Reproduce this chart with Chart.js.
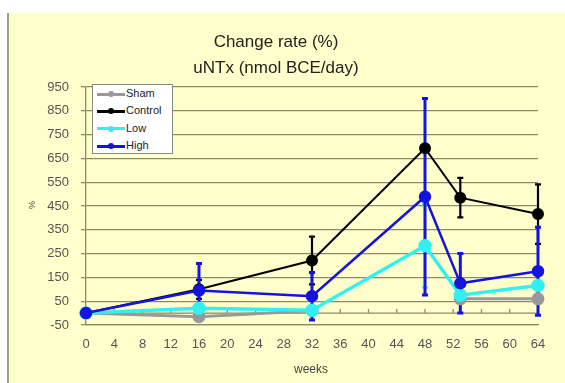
<!DOCTYPE html>
<html lang="en">
<head>
<meta charset="UTF-8" />
<title>Change rate (%) uNTx</title>
<script src="https://cdn.jsdelivr.net/npm/chart.js"></script>
<style>
  html, body { margin:0; padding:0; background:#fff; font-family: Arial, "Liberation Sans", sans-serif; }
  #wrap { position:relative; width:565px; height:383px; overflow:hidden; }
  #bg { position:absolute; left:7px; top:13px; right:0; bottom:0; background:#ffffcc; border-left:2px solid #a09f80; }
  canvas { position:absolute; left:0; top:0; }
  .title { position:absolute; left:0; width:552px; text-align:center; font-size:17px; color:#222; }
  .lbl { position:absolute; color:#444; font-size:12px; }
  #legend { position:absolute; left:92px; top:84px; width:79px; height:68px; background:#fff; border:1px solid #888; font-size:11px; color:#222; }
  #legend div { height:17.4px; line-height:17px; white-space:nowrap; }
  #legend .ln { display:inline-block; position:relative; width:28px; height:3px; margin:0 1px 0 4px; vertical-align:middle; }
  #legend .ln i { position:absolute; left:11px; top:-1.5px; width:6px; height:6px; border-radius:3px; }
</style>
</head>
<body>
<div id="wrap">
  <div id="bg"></div>
  <canvas id="chart" width="565" height="383"></canvas>
  <div class="title" style="top:32px">Change rate (%)</div>
  <div class="title" style="top:58px">uNTx (nmol BCE/day)</div>
  <div class="lbl" style="left:294px; top:362px">weeks</div>
  <div class="lbl" style="left:28px; top:200px; font-size:9px; transform:rotate(-90deg)">%</div>
  <div id="legend"></div>
</div>

<script>
const weeks = [0, 16, 32, 48, 53, 64];
const yTicksMin = -50, yTicksMax = 950, yStep = 100;

const names = ['Sham', 'Control', 'Low', 'High'];
const colors = ['#999999', '#000000', '#33f0f0', '#1414dc'];

const sham    = [0, -15, 10, null, 60, 60];
const control = [0, 100, 221, 693, 485, 416];
const low     = [0, 20, 12, 283, 75, 116];
const high    = [0, 95, 71, 489, 125, 176];

const shamErr    = [0, 0, 0, 0, 0, 0];
const controlErr = [0, 40, 100, 0, 83, 125];
const lowErr     = [0, 0, 0, 175, 0, 0];
const highErr    = [0, 113, 100, 413, 125, 185];

const series = [sham, control, low, high];
const errs = [shamErr, controlErr, lowErr, highErr];
const widths = [3, 2, 3.5, 2.5];
const order = [3, 2, 1, 0];

const gridColor = '#8c8a6a';

// error bars under the lines
const errorBars = {
  id:'errorBars',
  beforeDatasetsDraw(chart){
    const ctx = chart.ctx, ys = chart.scales.y, xs = chart.scales.x;
    chart.data.datasets.forEach((ds, i) => {
      ctx.save();
      ctx.strokeStyle = ds.borderColor;
      ctx.lineWidth = i === 3 ? 3 : 2.2;
      errs[i].forEach((e, j) => {
        const v = series[i][j];
        if (!e || v === null) return;
        const px = xs.getPixelForValue(weeks[j]);
        const top = ys.getPixelForValue(v + e), bot = ys.getPixelForValue(v - e);
        ctx.beginPath();
        ctx.moveTo(px, top); ctx.lineTo(px, bot);
        ctx.moveTo(px - 3, top); ctx.lineTo(px + 3, top);
        ctx.moveTo(px - 3, bot); ctx.lineTo(px + 3, bot);
        ctx.stroke();
      });
      ctx.restore();
    });
  }
};

// x axis crossing at 0 with small ticks
const zeroAxis = {
  id:'zeroAxis',
  beforeDatasetsDraw(chart){
    const ctx = chart.ctx, ys = chart.scales.y, xs = chart.scales.x;
    const y0 = ys.getPixelForValue(0);
    ctx.save();
    ctx.strokeStyle = gridColor;
    ctx.lineWidth = 1.3;
    ctx.beginPath();
    ctx.moveTo(chart.chartArea.left, y0); ctx.lineTo(chart.chartArea.right, y0);
    xs.ticks.forEach(t => {
      const px = xs.getPixelForValue(t.value);
      ctx.moveTo(px, y0); ctx.lineTo(px, y0 - 4);
    });
    ctx.stroke();
    ctx.restore();
  }
};

new Chart(document.getElementById('chart'), {
  type:'line',
  data:{
    datasets: series.map((s, i) => ({
      label: names[i],
      data: s.map((v, j) => ({x: weeks[j], y: v})),
      borderColor: colors[i],
      backgroundColor: colors[i],
      borderWidth: widths[i],
      pointRadius: 5,
      pointHoverRadius: 5,
      spanGaps: false,
      clip: false,
      order: order[i],
      tension: 0
    }))
  },
  options:{
    responsive:false,
    animation:false,
    layout:{ padding:{ top:87, right:27, left:0, bottom:0 } },
    plugins:{ legend:{display:false}, title:{display:false}, tooltip:{enabled:false} },
    scales:{
      x:{
        type:'linear', min:0, max:64,
        ticks:{ stepSize:4, color:'#555', font:{size:13, family:'Arial'}, padding:4 },
        grid:{ display:false },
        border:{ display:true, color:gridColor, width:1.3 },
        afterFit(s){ s.height = 58; }
      },
      y:{
        min:yTicksMin, max:yTicksMax,
        ticks:{ stepSize:yStep, color:'#555', font:{size:13, family:'Arial'}, padding:12 },
        grid:{ color:gridColor, lineWidth:1.3, tickLength:5, tickColor:gridColor },
        border:{ display:true, color:gridColor, width:1.3 },
        afterFit(s){ s.width = 86; }
      }
    }
  },
  plugins:[zeroAxis, errorBars]
});

// legend
const leg = document.getElementById('legend');
names.forEach((n, i) => {
  const row = document.createElement('div');
  row.innerHTML = `<span class="ln" style="background:${colors[i]}"><i style="background:${colors[i]}"></i></span>${n}`;
  leg.appendChild(row);
});
</script>
</body>
</html>
